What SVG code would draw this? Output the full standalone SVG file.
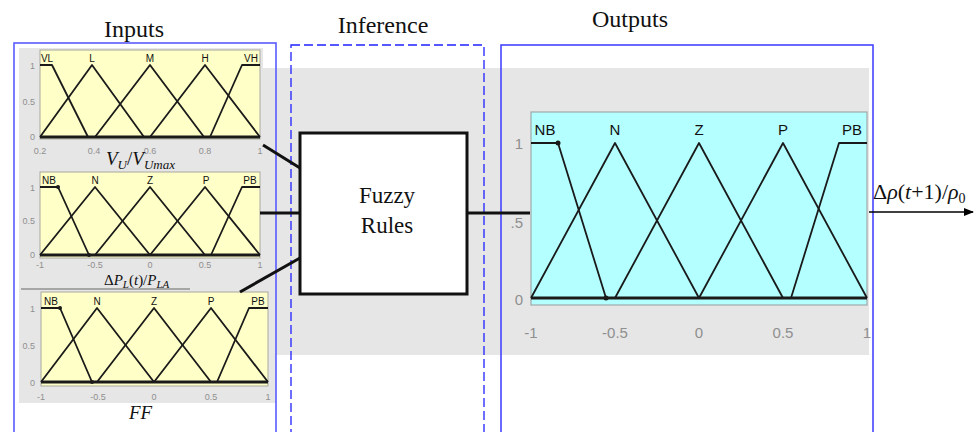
<svg xmlns="http://www.w3.org/2000/svg" width="976" height="432" viewBox="0 0 976 432">
<defs>
<style>
.title{font-family:"Liberation Serif",serif;font-size:24px;fill:#111}
.rule{font-family:"Liberation Serif",serif;font-size:23px;fill:#111}
.math{font-family:"Liberation Serif",serif;fill:#111}
.it{font-style:italic}
.ax{font-family:"Liberation Sans",Arial,sans-serif;font-size:9px;fill:#8f8f8f}
.axo{font-family:"Liberation Sans",Arial,sans-serif;font-size:15px;fill:#8f8f8f}
.mf{font-family:"Liberation Sans",Arial,sans-serif;font-size:10px;fill:#111}
.mfo{font-family:"Liberation Sans",Arial,sans-serif;font-size:15px;fill:#111}
.curve{fill:none;stroke:#1a1a1a;stroke-width:1.8;stroke-linejoin:round}
.base{fill:none;stroke:#1a1a1a;stroke-width:3}
.yel{fill:#ffffc8;stroke:#a8a8a0;stroke-width:1}
.cyan{fill:#b4ffff;stroke:#a0a8a8;stroke-width:1.2}
.gray{fill:#e6e6e6}
.panel{fill:none;stroke:#5a5aff;stroke-width:1.6}
.conn{stroke:#111;stroke-width:3;fill:none}
.dot{fill:#1a1a1a}
</style>
<marker id="arrow" markerWidth="10" markerHeight="8" refX="9" refY="4" orient="auto" markerUnits="userSpaceOnUse" viewBox="0 0 10 8">
<path d="M0,0 L10,4 L0,8 z" fill="#000"/>
</marker>
</defs>
<rect width="976" height="432" fill="#fff"/>

<!-- gray backgrounds -->
<g id="backgrounds">
<path class="gray" d="M19,48 H263 V68 H869 V355 H276 V403 H19 Z"/>
</g>

<!-- Inputs panel -->
<g id="inputs-panel">
<text class="title" x="134" y="37" text-anchor="middle">Inputs</text>
<rect class="panel" x="14" y="43" width="262" height="400"/>
</g>

<!-- Plot 1: V_U/V_Umax -->
<g id="plot-vu">
<rect class="yel" x="40" y="50" width="220" height="89"/>
<polyline class="curve" points="40,65 52,65 88,137"/>
<polyline class="curve" points="40,137 92,65 144,137"/>
<polyline class="curve" points="95,137 150,65 204,137"/>
<polyline class="curve" points="150,137 205,65 260,137"/>
<polyline class="curve" points="210,137 242,65 260,65"/>
<line class="base" x1="40" y1="137" x2="260" y2="137"/>
<text class="mf" x="47" y="62" text-anchor="middle">VL</text>
<text class="mf" x="92" y="62" text-anchor="middle">L</text>
<text class="mf" x="150" y="62" text-anchor="middle">M</text>
<text class="mf" x="205" y="62" text-anchor="middle">H</text>
<text class="mf" x="251" y="62" text-anchor="middle">VH</text>
<text class="ax" x="35" y="69" text-anchor="end">1</text>
<text class="ax" x="35" y="105" text-anchor="end">0.5</text>
<text class="ax" x="35" y="140" text-anchor="end">0</text>
<text class="ax" x="40" y="154" text-anchor="middle">0.2</text>
<text class="ax" x="94" y="154" text-anchor="middle">0.4</text>
<text class="ax" x="150" y="154" text-anchor="middle">0.6</text>
<text class="ax" x="205" y="154" text-anchor="middle">0.8</text>
<text class="ax" x="260" y="154" text-anchor="middle">1</text>
<text class="math" x="106" y="165" font-size="19"><tspan class="it">V</tspan><tspan class="it" font-size="13" dy="4">U</tspan><tspan dy="-4">/</tspan><tspan class="it">V</tspan><tspan class="it" font-size="13" dy="4">Umax</tspan></text>
</g>

<!-- Plot 2: dP_L(t)/P_LA -->
<g id="plot-dp">
<rect class="yel" x="40" y="172" width="220" height="86"/>
<polyline class="curve" points="40,187 58,187 89,255"/>
<polyline class="curve" points="40,255 95,187 150,255"/>
<polyline class="curve" points="95,255 150,187 205,255"/>
<polyline class="curve" points="150,255 205,187 260,255"/>
<polyline class="curve" points="211,255 242,187 260,187"/>
<line class="base" x1="40" y1="255" x2="260" y2="255"/>
<circle class="dot" cx="58" cy="187" r="2"/>
<circle class="dot" cx="89" cy="255" r="2"/>
<text class="mf" x="49" y="184" text-anchor="middle">NB</text>
<text class="mf" x="95" y="184" text-anchor="middle">N</text>
<text class="mf" x="150" y="184" text-anchor="middle">Z</text>
<text class="mf" x="206" y="184" text-anchor="middle">P</text>
<text class="mf" x="250" y="184" text-anchor="middle">PB</text>
<text class="ax" x="35" y="191" text-anchor="end">1</text>
<text class="ax" x="35" y="224" text-anchor="end">0.5</text>
<text class="ax" x="35" y="258" text-anchor="end">0</text>
<text class="ax" x="40" y="268" text-anchor="middle">-1</text>
<text class="ax" x="95" y="268" text-anchor="middle">-0.5</text>
<text class="ax" x="150" y="268" text-anchor="middle">0</text>
<text class="ax" x="205" y="268" text-anchor="middle">0.5</text>
<text class="ax" x="260" y="268" text-anchor="middle">1</text>
<text class="math" x="104" y="285" font-size="15"><tspan>Δ</tspan><tspan class="it">P</tspan><tspan class="it" font-size="11" dy="3">L</tspan><tspan dy="-3">(</tspan><tspan class="it">t</tspan><tspan>)/</tspan><tspan class="it">P</tspan><tspan class="it" font-size="11" dy="3">LA</tspan></text>
<line x1="21" y1="289" x2="190" y2="289" stroke="#666" stroke-width="1"/>
</g>

<!-- Plot 3: FF -->
<g id="plot-ff">
<rect class="yel" x="41" y="292" width="227" height="94"/>
<polyline class="curve" points="41,308 60,308 92,382"/>
<polyline class="curve" points="41,382 97,308 154,382"/>
<polyline class="curve" points="97,382 154,308 211,382"/>
<polyline class="curve" points="154,382 211,308 268,382"/>
<polyline class="curve" points="217,382 249,308 268,308"/>
<line class="base" x1="41" y1="382" x2="268" y2="382"/>
<circle class="dot" cx="60" cy="308" r="2"/>
<circle class="dot" cx="92" cy="382" r="2"/>
<text class="mf" x="51" y="305" text-anchor="middle">NB</text>
<text class="mf" x="97" y="305" text-anchor="middle">N</text>
<text class="mf" x="154" y="305" text-anchor="middle">Z</text>
<text class="mf" x="211" y="305" text-anchor="middle">P</text>
<text class="mf" x="258" y="305" text-anchor="middle">PB</text>
<text class="ax" x="35" y="312" text-anchor="end">1</text>
<text class="ax" x="35" y="349" text-anchor="end">0.5</text>
<text class="ax" x="35" y="386" text-anchor="end">0</text>
<text class="ax" x="41" y="400" text-anchor="middle">-1</text>
<text class="ax" x="98" y="400" text-anchor="middle">-0.5</text>
<text class="ax" x="154" y="400" text-anchor="middle">0</text>
<text class="ax" x="211" y="400" text-anchor="middle">0.5</text>
<text class="ax" x="268" y="400" text-anchor="middle">1</text>
<text class="math it" x="129" y="419" font-size="19">FF</text>
</g>

<!-- Inference panel -->
<g id="inference-panel">
<text class="title" x="383" y="33" text-anchor="middle">Inference</text>
<rect x="291" y="45" width="193" height="400" fill="none" stroke="#2020ff" stroke-width="1.3" stroke-dasharray="9,4"/>
</g>

<!-- Fuzzy Rules node -->
<g id="fuzzy-rules">
<rect x="300" y="133" width="167" height="161" fill="#fff" stroke="#111" stroke-width="3"/>
<text class="rule" x="387" y="203" text-anchor="middle">Fuzzy</text>
<text class="rule" x="387" y="233" text-anchor="middle">Rules</text>
</g>

<!-- Outputs panel -->
<g id="outputs-panel">
<text class="title" x="630" y="27" text-anchor="middle">Outputs</text>
<rect x="501" y="45" width="372" height="400" fill="none" stroke="#4545ff" stroke-width="1.6"/>
</g>

<!-- Output plot -->
<g id="plot-out">
<rect class="cyan" x="531" y="112" width="336" height="193"/>
<polyline class="curve" points="531,143 558,143 606,298"/>
<polyline class="curve" points="531,298 615,143 699,298"/>
<polyline class="curve" points="615,298 699,143 783,298"/>
<polyline class="curve" points="699,298 783,143 867,298"/>
<polyline class="curve" points="791,298 839,143 867,143"/>
<line class="base" x1="531" y1="298" x2="867" y2="298"/>
<circle class="dot" cx="558" cy="143" r="2.5"/>
<circle class="dot" cx="606" cy="298" r="2.5"/>
<text class="mfo" x="545" y="135" text-anchor="middle">NB</text>
<text class="mfo" x="615" y="135" text-anchor="middle">N</text>
<text class="mfo" x="699" y="135" text-anchor="middle">Z</text>
<text class="mfo" x="783" y="135" text-anchor="middle">P</text>
<text class="mfo" x="852" y="135" text-anchor="middle">PB</text>
<text class="axo" x="523" y="149" text-anchor="end">1</text>
<text class="axo" x="523" y="228" text-anchor="end">.5</text>
<text class="axo" x="523" y="305" text-anchor="end">0</text>
<text class="axo" x="531" y="338" text-anchor="middle">-1</text>
<text class="axo" x="615" y="338" text-anchor="middle">-0.5</text>
<text class="axo" x="699" y="338" text-anchor="middle">0</text>
<text class="axo" x="783" y="338" text-anchor="middle">0.5</text>
<text class="axo" x="867" y="338" text-anchor="middle">1</text>
</g>

<!-- Connectors -->
<g id="connectors">
<line class="conn" x1="263" y1="145" x2="300" y2="168"/>
<line class="conn" x1="260" y1="213" x2="300" y2="213"/>
<line class="conn" x1="240" y1="292" x2="300" y2="258"/>
<line class="conn" x1="467" y1="213" x2="530" y2="213"/>
<line x1="869" y1="212" x2="973" y2="212" stroke="#000" stroke-width="1.5" marker-end="url(#arrow)"/>
<text class="math" x="873" y="199" font-size="22"><tspan>Δ</tspan><tspan class="it">ρ</tspan><tspan>(</tspan><tspan class="it">t</tspan><tspan>+1)/</tspan><tspan class="it">ρ</tspan><tspan font-size="14" dy="4">0</tspan></text>
</g>
</svg>
